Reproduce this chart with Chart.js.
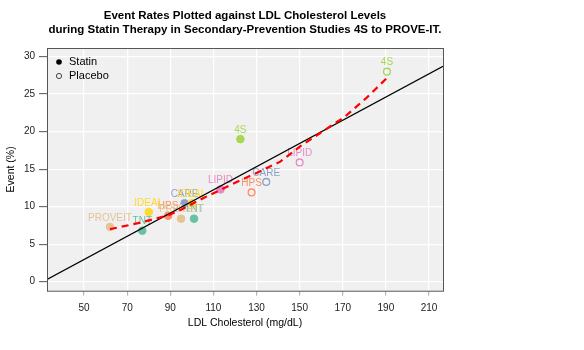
<!DOCTYPE html>
<html>
<head>
<meta charset="utf-8">
<script src="https://cdn.jsdelivr.net/npm/chart.js@4"></script>
<style>
  html, body { margin: 0; padding: 0; background: #fff; }
  #wrap { width: 584px; height: 350px; }
</style>
</head>
<body>
<div id="wrap"><canvas id="ldlChart" width="584" height="350"></canvas></div>
<script>
// ---- data ----
const xTicks = [50, 70, 90, 110, 130, 150, 170, 190, 210];
const yTicks = [0, 5, 10, 15, 20, 25, 30];

const studies = ['4S', 'LIPID', 'CARE', 'HPS', 'IDEAL', 'TNT', 'PROVEIT'];
const studyColors = ['#a6d854', '#e78ac3', '#8da0cb', '#fc8d62', '#ffd92f', '#66c2a5', '#e5c494'];

const statinStudy = ['4S', 'LIPID', 'CARE', 'HPS', 'IDEAL', 'IDEAL', 'TNT', 'TNT', 'PROVEIT', 'PROVEIT'];
const statinLDL   = [122.5, 113.3, 96.6, 89, 80, 100, 77, 101, 62, 95];
const statinEvent = [19.0, 12.3, 10.45, 8.8, 9.3, 10.45, 6.8, 8.4, 7.3, 8.4];

const placeboStudy = ['4S', 'LIPID', 'CARE', 'HPS'];
const placeboLDL   = [190.5, 150, 134.5, 127.7];
const placeboEvent = [28.0, 15.9, 13.3, 11.9];

// black regression line, read at the two plot edges
const regLDL   = [32.8, 216.5];
const regEvent = [0.3, 28.7];

// red dashed smooth fit
const fitLDL   = [62, 75, 88.5, 95, 105, 118, 130, 141, 150.5, 171, 181, 191];
const fitEvent = [7.0, 7.8, 8.8, 9.6, 11.1, 12.9, 14.5, 16.0, 18.1, 22.0, 24.5, 27.3];

const FONT = '"Liberation Sans", Arial, sans-serif';

function colorOf(name) { return studyColors[studies.indexOf(name)]; }
function pts(xs, ys) { return xs.map((x, i) => ({ x, y: ys[i] })); }

// ---- plugins ----
const frame = {
    id: 'frame',
    beforeDraw(chart) {
        const { ctx, chartArea: a } = chart;
        ctx.save();
        ctx.fillStyle = '#fff';
        ctx.fillRect(0, 0, chart.width, chart.height);
        ctx.fillStyle = '#f0f0f0';
        ctx.fillRect(a.left, a.top, a.right - a.left, a.bottom - a.top);
        ctx.restore();
    },
    afterDatasetDraw(chart, args) {
        // study names above the points, drawn before the lines go on top
        if (args.index > 1) return;
        const { ctx } = chart;
        const names = args.index === 0 ? statinStudy : placeboStudy;
        const meta = chart.getDatasetMeta(args.index);
        ctx.save();
        ctx.font = '10px ' + FONT;
        ctx.textAlign = 'center';
        ctx.textBaseline = 'middle';
        meta.data.forEach((el, i) => {
            ctx.fillStyle = colorOf(names[i]);
            ctx.fillText(names[i], el.x, el.y - 9);
        });
        ctx.restore();
    },
    afterDraw(chart) {
        const { ctx, chartArea: a } = chart;
        ctx.save();
        ctx.strokeStyle = '#555';
        ctx.lineWidth = 1;
        ctx.strokeRect(a.left + 0.5, a.top + 0.5, a.right - a.left, a.bottom - a.top);

        // title
        ctx.fillStyle = '#000';
        ctx.textAlign = 'center';
        ctx.textBaseline = 'middle';
        ctx.font = 'bold 11.5px ' + FONT;
        const cx = (a.left + a.right) / 2;
        ctx.fillText('Event Rates Plotted against LDL Cholesterol Levels', cx, 16);
        ctx.fillText('during Statin Therapy in Secondary-Prevention Studies 4S to PROVE-IT.', cx, 30);

        // axis titles
        ctx.font = '10.5px ' + FONT;
        ctx.fillText('LDL Cholesterol (mg/dL)', cx, 323);
        ctx.translate(11, (a.top + a.bottom) / 2);
        ctx.rotate(-Math.PI / 2);
        ctx.fillText('Event (%)', 0, 0);
        ctx.setTransform(1, 0, 0, 1, 0, 0);

        // legend
        ctx.font = '11px ' + FONT;
        ctx.textAlign = 'left';
        ctx.fillStyle = '#000';
        ctx.beginPath(); ctx.arc(59, 62, 2.8, 0, Math.PI * 2); ctx.fill();
        ctx.fillText('Statin', 69, 62);
        ctx.strokeStyle = '#444';
        ctx.beginPath(); ctx.arc(59, 76, 2.6, 0, Math.PI * 2); ctx.stroke();
        ctx.fillText('Placebo', 69, 76);
        ctx.restore();
    }
};

// ---- chart ----
new Chart(document.getElementById('ldlChart'), {
    type: 'scatter',
    data: {
        datasets: [
            {
                label: 'Statin',
                data: pts(statinLDL, statinEvent),
                pointBackgroundColor: statinStudy.map(colorOf),
                pointBorderColor: statinStudy.map(colorOf),
                pointRadius: 3.8,
                order: 2
            },
            {
                label: 'Placebo',
                data: pts(placeboLDL, placeboEvent),
                pointBackgroundColor: 'rgba(0,0,0,0)',
                pointBorderColor: placeboStudy.map(colorOf),
                pointBorderWidth: 1.3,
                pointRadius: 3.4,
                order: 2
            },
            {
                label: 'Linear',
                data: pts(regLDL, regEvent),
                showLine: true,
                borderColor: '#000',
                borderWidth: 1.3,
                pointRadius: 0,
                order: 1
            },
            {
                label: 'Smooth',
                data: pts(fitLDL, fitEvent),
                showLine: true,
                borderColor: '#ff0000',
                borderWidth: 2.2,
                borderDash: [7, 5],
                pointRadius: 0,
                tension: 0,
                order: 0
            }
        ]
    },
    options: {
        responsive: false,
        animation: false,
        layout: { padding: { top: 48, right: 141, bottom: 0, left: 0 } },
        plugins: { legend: { display: false }, title: { display: false }, tooltip: { enabled: false } },
        scales: {
            x: {
                type: 'linear', min: 32.8, max: 216.5,
                afterFit: (s) => { s.height = 59.3; },
                afterBuildTicks: (s) => { s.ticks = xTicks.map(v => ({ value: v })); },
                border: { display: false },
                grid: { color: '#fff', lineWidth: 1.3, tickLength: 5, tickColor: '#aaa', tickWidth: 1 },
                ticks: { font: { size: 10, family: FONT }, color: '#222', padding: 7 }
            },
            y: {
                type: 'linear', min: -1.2, max: 31.15,
                afterFit: (s) => { s.width = 47; },
                afterBuildTicks: (s) => { s.ticks = yTicks.map(v => ({ value: v })); },
                border: { display: false },
                grid: { color: '#fff', lineWidth: 1.3, tickLength: 8, tickColor: '#555', tickWidth: 1 },
                ticks: { font: { size: 10, family: FONT }, color: '#222', padding: 4 }
            }
        }
    },
    plugins: [frame]
});
</script>
</body>
</html>
